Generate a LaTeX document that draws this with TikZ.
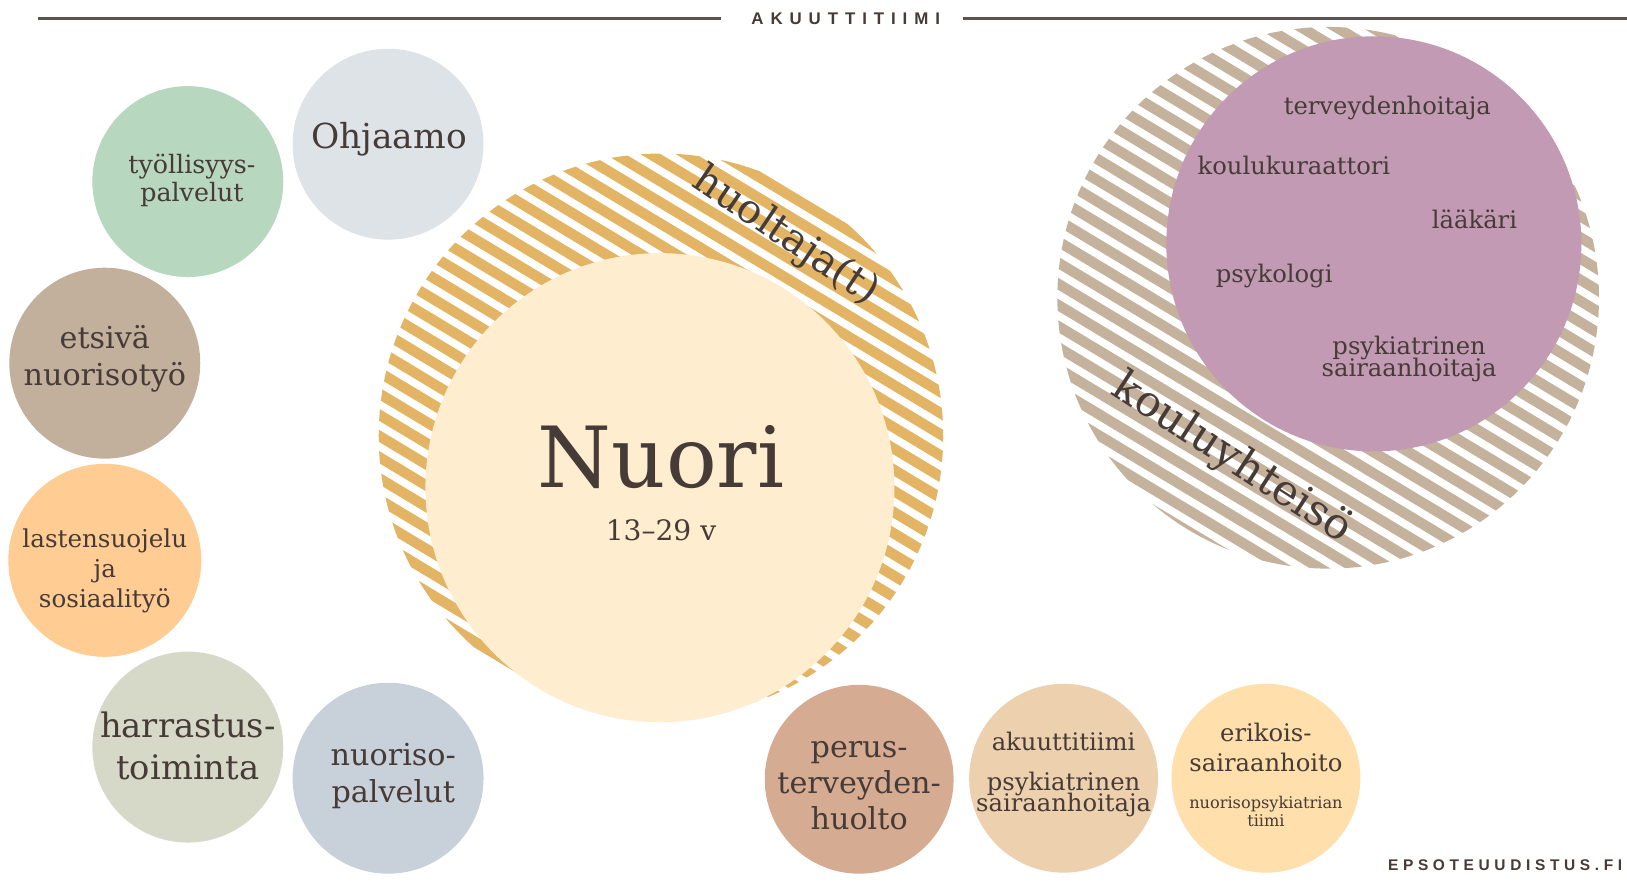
\documentclass[tikz,border=0pt]{standalone}
\usepackage{fontspec}
\setmainfont{DejaVu Serif}
\newfontfamily\hdrfont[LetterSpace=41]{Liberation Sans}
\newfontfamily\ftrfont[LetterSpace=30]{Liberation Sans}
\definecolor{txt}{HTML}{463B37}
\definecolor{hline}{HTML}{5A5352}
\definecolor{gold}{HTML}{E2B463}
\definecolor{cNuori}{HTML}{FFEDCF}
\definecolor{tan}{HTML}{C4B29C}
\definecolor{purp}{HTML}{C29AB3}
\definecolor{cOhj}{HTML}{DEE3E8}
\definecolor{cTyo}{HTML}{B7D7BE}
\definecolor{cEts}{HTML}{C2B09C}
\definecolor{cLas}{HTML}{FFCC93}
\definecolor{cHar}{HTML}{D6D9C7}
\definecolor{cNuo}{HTML}{C8D0DA}
\definecolor{cPer}{HTML}{D5AB92}
\definecolor{cAku}{HTML}{EDD0AE}
\definecolor{cEri}{HTML}{FFDFAB}
\def\pxu{0.010376cm}
\newcommand\fs[2]{\fontsize{#1}{#2}\selectfont\lineskiplimit=-20pt\relax}
\newcommand\stripecircle[4]{%
  \begin{scope}
    \clip (#1,#2) circle [radius=#3*\pxu];
    \begin{scope}[shift={(#1,#2)}, rotate=-31]
      \foreach \k in {-18,...,18}
        \draw[#4, line width=10*\pxu] (-320,\k*17.5) -- (320,\k*17.5);
    \end{scope}
  \end{scope}}
\begin{document}
\begin{tikzpicture}[x=0.010376cm,y=-0.010376cm,
  disc/.style={circle, inner sep=0pt, draw=none},
  lbl/.style={text=txt, align=center, inner sep=0pt},
  rule/.style={draw=hline, line width=2.5*\pxu}]
\useasboundingbox[fill=white] (0,0) rectangle (1568,855);

% header
\node[text=txt, inner sep=0pt, anchor=base, font={\hdrfont\bfseries\fs{4.8}{5}}] (hdr) at (815,24) {AKUUTTITIIMI};
\coordinate (hl1) at (37,18);
\coordinate (hl2) at (695,18);
\coordinate (hr1) at (928,18);
\coordinate (hr2) at (1568,18);
\draw[rule] (hl1) -- (hl2);
\draw[rule] (hr1) -- (hr2);

% huoltaja striped circle + Nuori
\stripecircle{637}{420}{272}{gold}
\node[disc, fill=cNuori, minimum size=452*\pxu] (nuori) at (636,470) {};
\node[lbl, anchor=base, font={\fs{24}{28}}] (nuoritxt) at (637,470) {Nuori};
\node[lbl, anchor=base, font={\fs{8}{10}}] (age) at (637,521) {13–29 v};
\node[lbl, rotate=-34, font={\fs{11.5}{13}}] (huolt) at (757,228) {huoltaja(t)};

% kouluyhteiso
\stripecircle{1280}{287}{261}{tan}
\node[disc, fill=purp, minimum size=400*\pxu] (purple) at (1324,235) {};
\node[lbl, anchor=base, font={\fs{6.9}{8}}] (ter) at (1337,110) {terveydenhoitaja};
\node[lbl, anchor=base, font={\fs{6.9}{8}}] (kou) at (1247,168) {koulukuraattori};
\node[lbl, anchor=base, font={\fs{6.9}{8}}] (laa) at (1421,220) {lääkäri};
\node[lbl, anchor=base, font={\fs{6.9}{8}}] (psy) at (1228,272) {psykologi};
\node[lbl, font={\fs{6.9}{6}}] (psh) at (1358,346) {psykiatrinen\\sairaanhoitaja};
\node[lbl, rotate=-33, font={\fs{12.2}{14}}] (kyh) at (1187,442) {kouluyhteisö};

% left circles
\node[disc, fill=cOhj, minimum size=184*\pxu] (ohj) at (374,139) {};
\node[lbl, anchor=base, font={\fs{9.8}{12}}] (ohjt) at (375,143) {Ohjaamo};
\node[disc, fill=cTyo, minimum size=184*\pxu] (tyo) at (181,175) {};
\node[lbl, font={\fs{7.2}{8}}] (tyot) at (185,174) {työllisyys-\\palvelut};
\node[disc, fill=cEts, minimum size=184*\pxu] (ets) at (101,350) {};
\node[lbl, font={\fs{8.6}{10.6}}] (etst) at (101,346) {etsivä\\nuorisotyö};
\node[disc, fill=cLas, minimum size=186*\pxu] (las) at (101,540) {};
\node[lbl, font={\fs{7}{8.6}}] (last) at (101,550) {lastensuojelu\\ja\\sosiaalityö};
\node[disc, fill=cHar, minimum size=184*\pxu] (har) at (181,720) {};
\node[lbl, font={\fs{9.6}{11.8}}] (hart) at (181,719) {harrastus-\\toiminta};
\node[disc, fill=cNuo, minimum size=184*\pxu] (nuo) at (374,750) {};
\node[lbl, font={\fs{8.6}{10.6}}] (nuot) at (379,748) {nuoriso-\\palvelut};

% bottom circles
\node[disc, fill=cPer, minimum size=182*\pxu] (per) at (828,751) {};
\node[lbl, font={\fs{8.6}{10.3}}] (pert) at (828,757) {perus-\\terveyden-\\huolto};
\node[disc, fill=cAku, minimum size=182*\pxu] (aku) at (1025,750) {};
\node[lbl, anchor=base, font={\fs{6.9}{8}}] (akut) at (1025,723) {akuuttitiimi};
\node[lbl, font={\fs{6.9}{5.9}}] (akup) at (1025,766) {psykiatrinen\\sairaanhoitaja};
\node[disc, fill=cEri, minimum size=182*\pxu] (eri) at (1220,750) {};
\node[lbl, font={\fs{6.9}{8.6}}] (erit) at (1220,720) {erikois-\\sairaanhoito};
\node[lbl, font={\fs{4.6}{5.3}}] (erin) at (1220,782) {nuorisopsykiatrian\\tiimi};

% footer
\node[text=txt, inner sep=0pt, anchor=base east, font={\ftrfont\bfseries\fs{4.4}{5}}] (foot) at (1564,838.5) {EPSOTEUUDISTUS.FI};
\end{tikzpicture}
\end{document}
